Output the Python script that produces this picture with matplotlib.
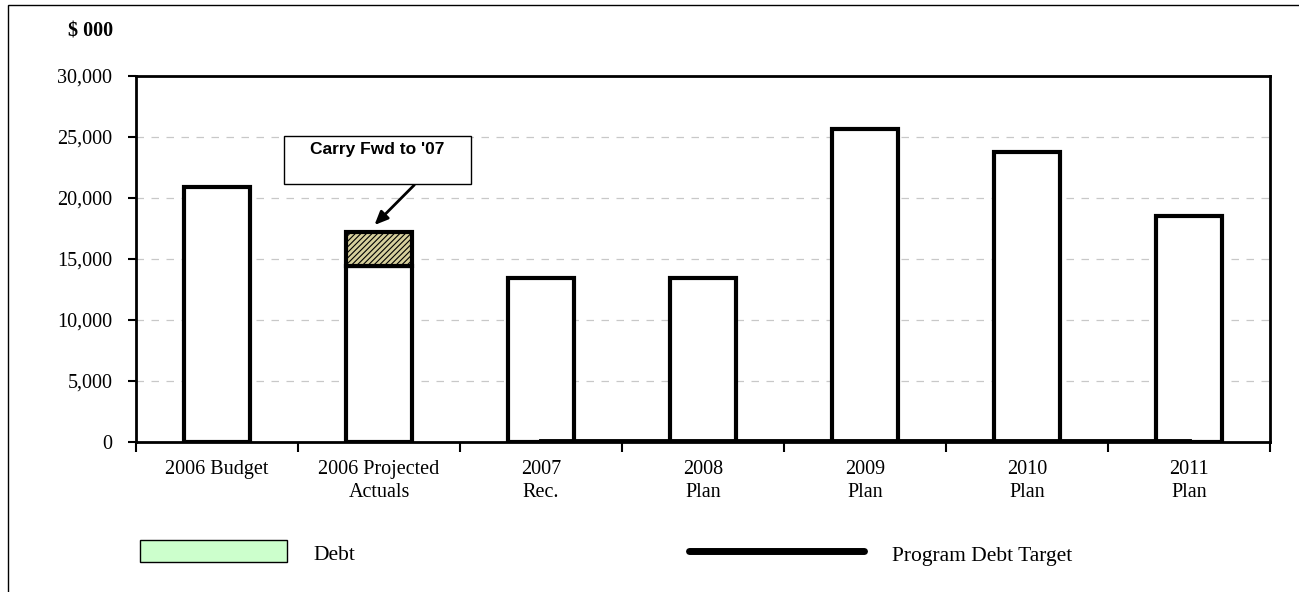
import matplotlib.pyplot as plt
import matplotlib.patches as mpatches
from matplotlib.lines import Line2D
import numpy as np

# data ($ 000)
categories = ["2006 Budget", "2006 Projected\nActuals", "2007\nRec.", "2008\nPlan",
              "2009\nPlan", "2010\nPlan", "2011\nPlan"]
debt = [20900, 14400, 13400, 13400, 25600, 23700, 18500]
carry_fwd = [0, 2800, 0, 0, 0, 0, 0]
debt_target = [np.nan, np.nan, 100, 100, 100, 100, 100]

plt.rcParams['font.family'] = ['Liberation Serif', 'DejaVu Serif']
plt.rcParams['hatch.linewidth'] = 0.8

fig = plt.figure(figsize=(12.99, 5.92), dpi=100)
ax = fig.add_axes([136 / 1299, 1 - 442 / 592, 1134 / 1299, (442 - 75.5) / 592])

x = np.arange(len(categories)) + 0.5
ax.bar(x, debt, width=0.41, color="white", edgecolor="black", linewidth=3, zorder=3)
cf = np.array(carry_fwd)
ax.bar(x[cf > 0], cf[cf > 0], bottom=np.array(debt)[cf > 0], width=0.41,
       color="#d6cf9c", edgecolor="black", linewidth=3, hatch="//////", zorder=3)
ax.plot(x, debt_target, color="black", linewidth=3.5, zorder=4)

ax.set_xlim(0, len(categories))
ax.set_ylim(0, 30000)
ax.set_yticks(range(0, 30001, 5000))
ax.set_yticklabels([f"{v:,}" for v in range(0, 30001, 5000)], fontsize=14.5)
ax.set_xticks(np.arange(len(categories) + 1))
ax.set_xticklabels([])
ax.set_xticks(x, minor=True)
ax.set_xticklabels(categories, minor=True, fontsize=14.5, linespacing=1.3)
ax.tick_params(axis="x", which="minor", length=0, pad=13)
ax.tick_params(axis="x", which="major", length=7, width=1.5, direction="out")
ax.tick_params(axis="y", length=6, width=1.5, direction="out", pad=11)
ax.yaxis.grid(True, color="#c8c8c8", linestyle=(0, (6, 6)), linewidth=0.9)
ax.set_axisbelow(True)
for s in ax.spines.values():
    s.set_linewidth(2)

fig.text(113 / 1299, 1 - 31 / 592, "$ 000", ha="right", va="center",
         fontsize=14.5, fontweight="bold")

# annotation box with arrow
ax.annotate("", xy=(1.46, 17600), xytext=(1.73, 21200),
            arrowprops=dict(arrowstyle="-|>,head_length=0.8,head_width=0.35",
                            color="black", lw=2), zorder=6)
box = mpatches.Rectangle((284 / 1299, 1 - 184 / 592), 187 / 1299, 48 / 592,
                         transform=fig.transFigure, facecolor="white",
                         edgecolor="black", linewidth=1, zorder=2)
fig.patches.append(box)
fig.text(377 / 1299, 1 - 149 / 592, "Carry Fwd to '07", ha="center", va="center",
         fontsize=12.5, fontweight="bold", family=["Liberation Sans", "DejaVu Sans"],
         zorder=7)

# legend drawn by hand
leg_patch = mpatches.Rectangle((140 / 1299, 1 - 562 / 592), 147 / 1299, 22 / 592,
                               transform=fig.transFigure, facecolor="#ccffcc",
                               edgecolor="black", linewidth=1)
fig.patches.append(leg_patch)
fig.text(313 / 1299, 1 - 555 / 592, "Debt", ha="left", va="center", fontsize=15.5)
fig.lines.append(Line2D([689 / 1299, 864 / 1299], [1 - 551 / 592, 1 - 551 / 592],
                        transform=fig.transFigure, color="black", linewidth=5,
                        solid_capstyle="round"))
fig.text(892 / 1299, 1 - 556 / 592, "Program Debt Target", ha="left", va="center",
         fontsize=15.5)

# outer frame
frame = mpatches.Rectangle((8 / 1299, -0.05), 1.1, 1 - 5 / 592 + 0.05,
                           transform=fig.transFigure, facecolor="none",
                           edgecolor="black", linewidth=1, clip_on=False)
fig.patches.append(frame)

fig.savefig("out.png", dpi=100)
